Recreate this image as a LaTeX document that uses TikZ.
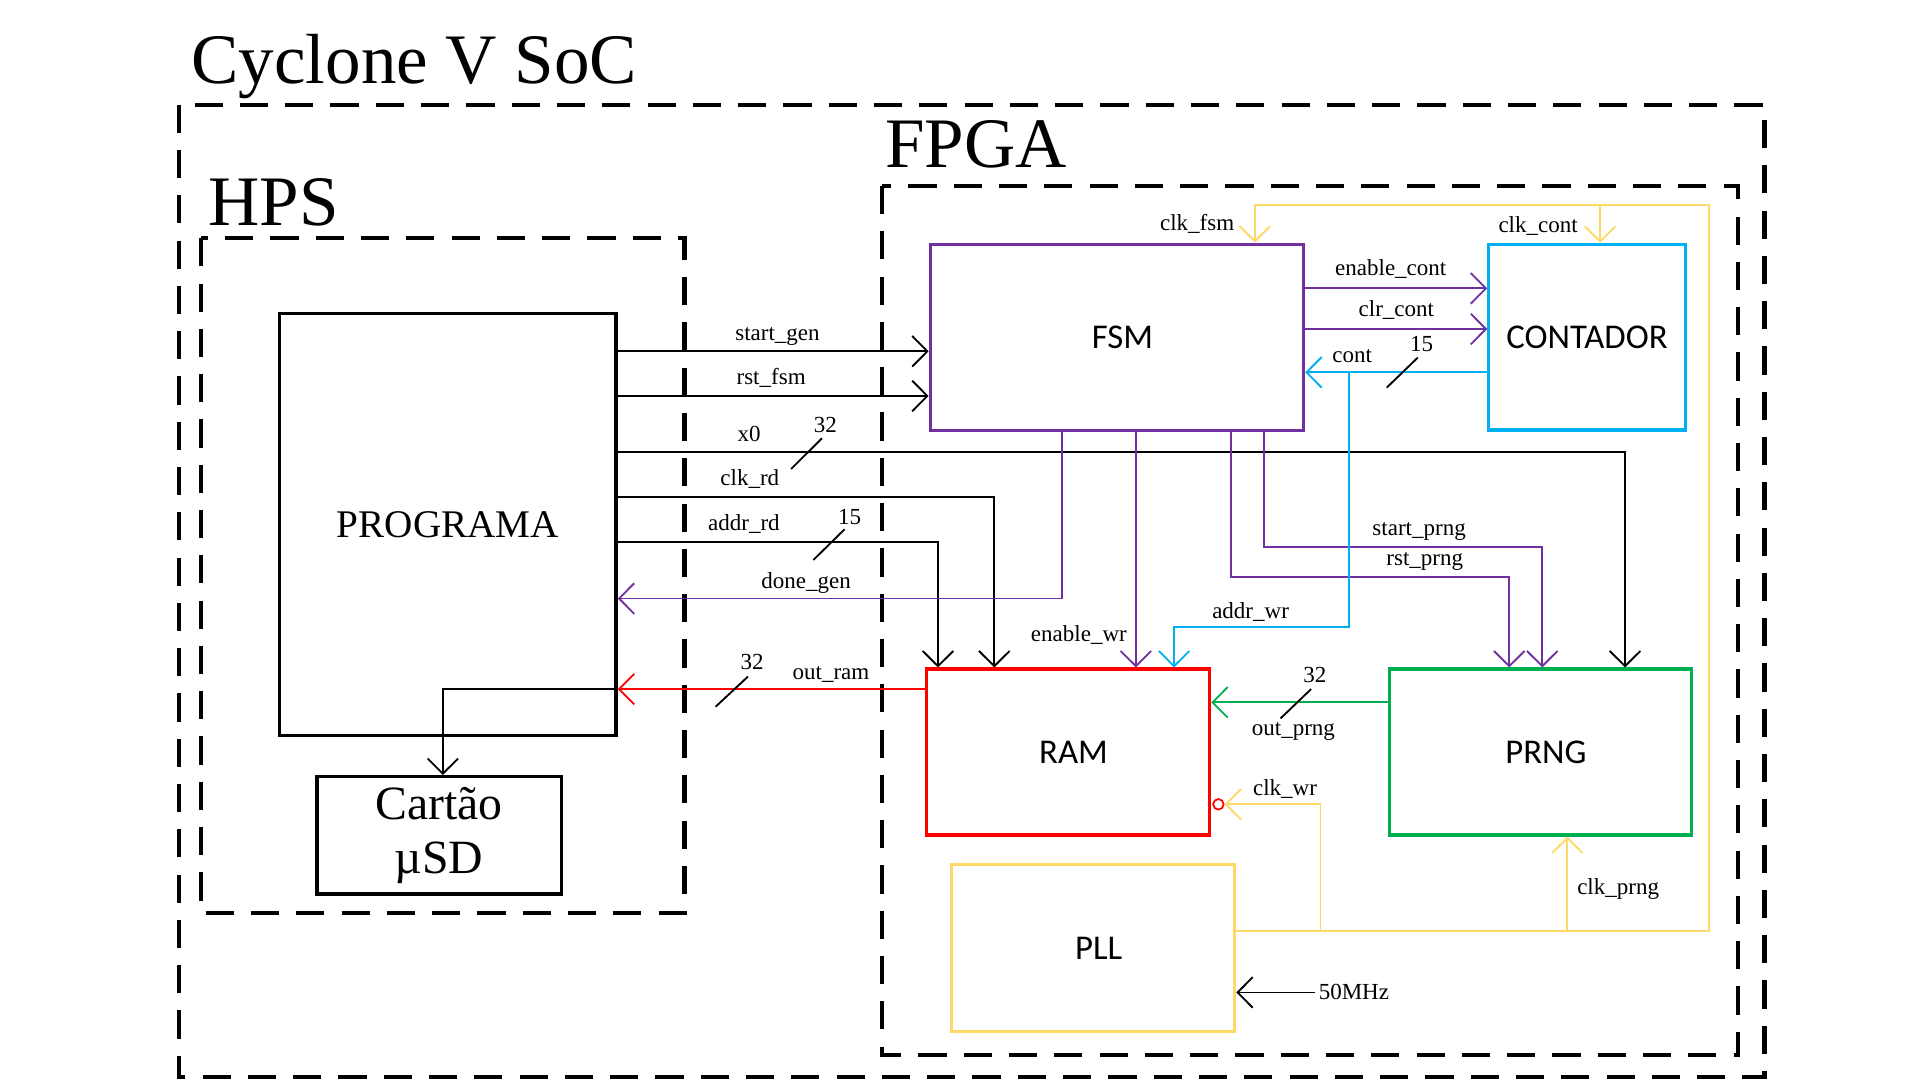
\documentclass[tikz,border=0pt]{standalone}
\usepackage{fontspec}
\setmainfont{Liberation Serif}
\newfontfamily\boxfont{Carlito}
\usetikzlibrary{arrows.meta, positioning, calc}
\definecolor{fsmpurple}{HTML}{7030A0}
\definecolor{contblue}{HTML}{00B0F0}
\definecolor{ramred}{HTML}{FF0000}
\definecolor{prnggreen}{HTML}{00B050}
\definecolor{pllyellow}{HTML}{FFD966}
\tikzset{
    block/.style={rectangle, draw, line width=1.3pt, inner sep=0pt, font=\boxfont\fontsize{14.2}{17}\selectfont},
    fpgablock/.style={block, execute at begin node=\hspace*{4.5pt}},
    hpsblock/.style={block, line width=1.4pt, font=\fontsize{16}{19}\selectfont},
    region/.style={line width=1.7pt, dash pattern=on 11.5pt off 7pt},
    title/.style={anchor=base west, inner sep=0pt, font=\fontsize{29}{34}\selectfont},
    sig/.style={-{Straight Barb[length=6.2pt, width=12.5pt]}, line width=0.75pt},
    clk/.style={sig, draw=pllyellow},
    lbl/.style={anchor=base, inner sep=0pt, font=\fontsize{9.4}{11}\selectfont},
    buswidth/.style={line width=0.75pt},
}
\begin{document}
\begin{tikzpicture}[x=0.5pt, y=-0.5pt]
            \useasboundingbox (0,0) rectangle (1568.6,882.4);
            \draw[region] (146,85.5) rectangle (1441.5,880);
            \draw[region] (164.5,194.7) rectangle (559.2,746.2);
            \draw[region] (720.3,152) rectangle (1420.2,862);
            \node[title] (soc) at (156,68) {Cyclone V SoC};
            \node[title] (fpga) at (723,137) {FPGA};
            \node[title] (hps) at (170,184) {HPS};

            \node[hpsblock, minimum width=137.4pt, minimum height=172.5pt] (prog) at (365.9,428.5) {PROGRAMA};
            \node[hpsblock, align=center, minimum width=99.75pt, minimum height=47.95pt, font=\fontsize{19.5}{21.8}\selectfont] (sd) at (358.75,682.45) {Cartão\\µSD};
            \node[fpgablock, draw=fsmpurple, minimum width=152.5pt, minimum height=76pt] (fsm) at (912.5,275.5) {FSM};
            \node[block, draw=contblue, minimum width=80.25pt, minimum height=75.85pt] (cont) at (1296.6,275.5) {CONTADOR};
            \node[fpgablock, draw=ramred, minimum width=115.75pt, minimum height=67.8pt] (ram) at (872.5,614.4) {RAM};
            \node[fpgablock, draw=prnggreen, minimum width=123.5pt, minimum height=67.8pt] (prng) at (1258.5,614.4) {PRNG};
            \node[fpgablock, draw=pllyellow, minimum width=115.6pt, minimum height=68.15pt] (pll) at (893.1,774.6) {PLL};
            \node[circle, draw=ramred, line width=0.7pt, minimum size=4.3pt, inner sep=0pt] (bubble) at (995.4,657.1) {};

            \draw[sig] (prog.east |- 0,287) -- (fsm.west |- 0,287);
            \draw[sig] (prog.east |- 0,323.5) -- (fsm.west |- 0,323.5);
            \draw[sig] (prog.east |- 0,369.5) -| (prng.north -| 1327.6,0);
            \draw[sig] (prog.east |- 0,406) -| (ram.north -| 812.3,0);
            \draw[sig] (prog.east |- 0,443) -| (ram.north -| 766.3,0);
            \draw[sig] (prog.east |- 0,563) -| (sd.north -| 361.8,0);
            \draw[sig, draw=ramred] (ram.west |- 0,563) -- (prog.east |- 0,563);
            \draw[sig, draw=fsmpurple] (fsm.south -| 867.4,0) |- (prog.east |- 0,489);
            \draw[sig, draw=fsmpurple] (fsm.south -| 928,0) -- (ram.north -| 928,0);
            \draw[sig, draw=fsmpurple] (fsm.south -| 1005.8,0) |- (1233,471.1) -- (prng.north -| 1233,0);
            \draw[sig, draw=fsmpurple] (fsm.south -| 1032.5,0) |- (1260,446.6) -- (prng.north -| 1260,0);
            \draw[sig, draw=fsmpurple] (fsm.east |- 0,235.6) -- (cont.west |- 0,235.6);
            \draw[sig, draw=fsmpurple] (fsm.east |- 0,268.8) -- (cont.west |- 0,268.8);
            \draw[sig, draw=contblue] (cont.west |- 0,304.2) -- (fsm.east |- 0,304.2);
            \coordinate (wrtap) at (1101.8,304.2);
            \draw[sig, draw=contblue] (wrtap) |- (959.2,512) -- (ram.north -| 959.2,0);
            \draw[sig, draw=prnggreen] (prng.west |- 0,573.8) -- (ram.east |- 0,573.8);
            \draw[clk] (pll.east |- 0,760.8) -- (1396.2,760.8) -- (1396.2,167.5) -| (fsm.north -| 1025.2,0);
            \coordinate (conttap) at (1307.2,167.5);
            \draw[clk] (conttap) -- (cont.north -| conttap);
            \coordinate (prngtap) at (1280.5,760.8);
            \draw[clk] (prngtap) -- (prng.south -| prngtap);
            \coordinate (ramtap) at (1078.8,760.8);
            \draw[clk] (ramtap) |- (bubble.east);
            \node[lbl, anchor=west, inner sep=1.5pt] (mhz) at (1074,810.8) {50MHz};
            \draw[sig] (mhz.west) -- (pll.east |- mhz.west);

            \node[lbl] (lstartgen) at (635.2,277.8) {start\_gen};
            \node[lbl] (lrstfsm) at (630,314.5) {rst\_fsm};
            \node[lbl] (lxzero) at (612,360.8) {x0};
            \node[lbl] (wxzero) at (674.3,353.2) {32};
            \node[lbl] (lclkrd) at (612.6,396.8) {clk\_rd};
            \node[lbl] (laddrrd) at (607.8,433.6) {addr\_rd};
            \node[lbl] (waddrrd) at (694.1,428.1) {15};
            \node[lbl] (ldonegen) at (658.5,480.6) {done\_gen};
            \node[lbl] (lenablewr) at (881.4,524.2) {enable\_wr};
            \node[lbl] (woutram) at (614.5,547) {32};
            \node[lbl] (loutram) at (678.9,555) {out\_ram};
            \node[lbl] (lclkfsm) at (978,188.5) {clk\_fsm};
            \node[lbl] (lclkcont) at (1256.6,189.8) {clk\_cont};
            \node[lbl] (lenablecont) at (1136.2,225.2) {enable\_cont};
            \node[lbl] (lclrcont) at (1140.8,258.7) {clr\_cont};
            \node[lbl] (lcont) at (1104.7,296.3) {cont};
            \node[lbl] (wcont) at (1161.4,287.3) {15};
            \node[lbl] (lstartprng) at (1159.4,437.1) {start\_prng};
            \node[lbl] (lrstprng) at (1164,461.6) {rst\_prng};
            \node[lbl] (laddrwr) at (1021.7,505.2) {addr\_wr};
            \node[lbl] (woutprng) at (1074.2,557.5) {32};
            \node[lbl] (loutprng) at (1056.7,601) {out\_prng};
            \node[lbl] (lclkwr) at (1049.8,649.5) {clk\_wr};
            \node[lbl] (lclkprng) at (1322,730.7) {clk\_prng};

            \draw[buswidth] (646.3,383.2) -- (671.5,358.1);
            \draw[buswidth] (664.5,457.5) -- (690,432.4);
            \draw[buswidth] (584.6,577.4) -- (611,552.8);
            \draw[buswidth] (1132.9,316.7) -- (1158.2,292.2);
            \draw[buswidth] (1046.2,586.9) -- (1071.2,562.9);
        \end{tikzpicture}
\end{document}
